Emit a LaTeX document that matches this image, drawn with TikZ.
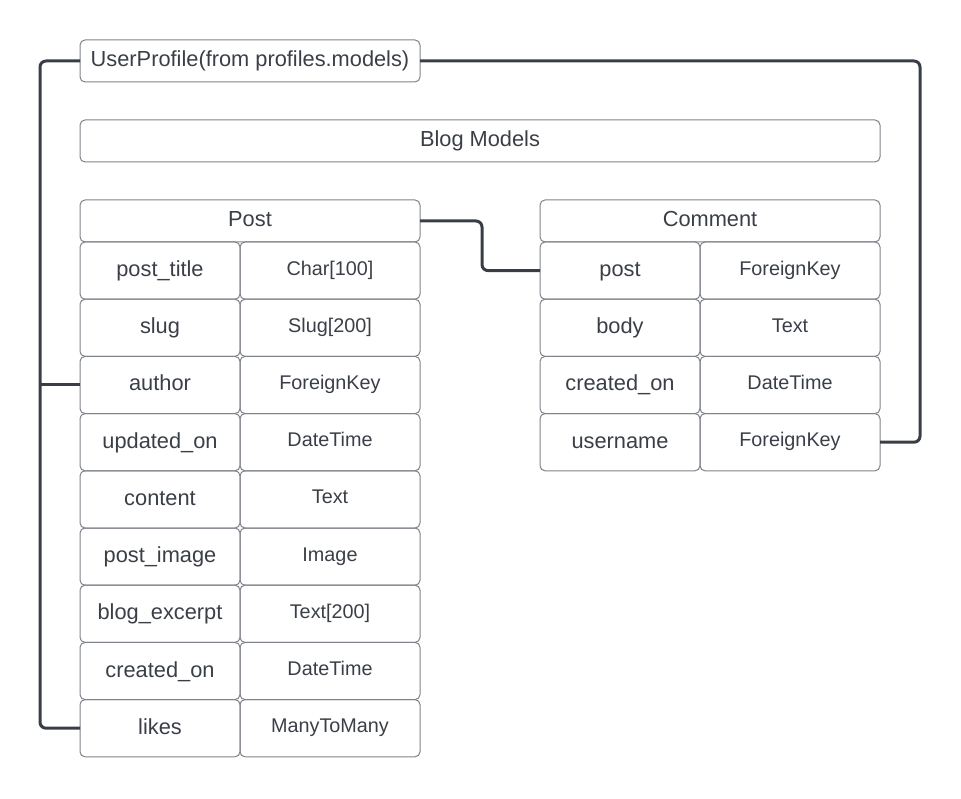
\documentclass[tikz,border=0pt]{standalone}
\usepackage{fontspec}
\setmainfont{Liberation Sans}
\definecolor{bord}{HTML}{7E8289}
\definecolor{txt}{HTML}{3A3F47}
\definecolor{lnk}{HTML}{393E46}
\begin{document}
\begin{tikzpicture}[x=1pt,y=-1pt,
 cell/.style={draw=bord, line width=1pt, rounded corners=5pt, anchor=north west, inner sep=0pt, outer sep=0pt, text=txt, font=\fontsize{21.8}{26}\selectfont, text height=15.5pt, text depth=3.5pt},
 fname/.style={cell, minimum width=160pt, minimum height=57.2pt},
 ftype/.style={cell, minimum width=180pt, minimum height=57.2pt, font=\fontsize{19.8}{24}\selectfont, text height=13.5pt, text depth=4.5pt},
 head/.style={cell, minimum width=340pt, minimum height=42pt},
 conn/.style={draw=lnk, line width=3pt, rounded corners=6pt}]
\useasboundingbox (0,0) rectangle (961,799);

\node[head] (up) at (80,40) {UserProfile(from profiles.models)};
\node[cell, minimum width=800pt, minimum height=42pt] (bm) at (80,120) {Blog Models};

\node[head] (ph) at (80,200) {Post};
\foreach \n/\t [count=\i] in {post\_title/Char[100], slug/Slug[200], author/ForeignKey, updated\_on/DateTime, content/Text, post\_image/Image, blog\_excerpt/Text[200], created\_on/DateTime, likes/ManyToMany}{
  \node[fname] (pn\i) at (80,{242+(\i-1)*57.2}) {\n};
  \node[ftype] (pt\i) at (240,{242+(\i-1)*57.2}) {\t};
}

\node[head] (ch) at (540,200) {Comment};
\foreach \n/\t [count=\i] in {post/ForeignKey, body/Text, created\_on/DateTime, username/ForeignKey}{
  \node[fname] (cn\i) at (540,{242+(\i-1)*57.2}) {\n};
  \node[ftype] (ct\i) at (700,{242+(\i-1)*57.2}) {\t};
}

\coordinate (lc) at (40,61);
\coordinate (rc) at (920,61);
\coordinate (mc) at (482,221);

\draw[conn] (up.west) -- (lc) |- (pn9.west);
\draw[conn] (lc |- pn3.west) -- (pn3.west);
\draw[conn] (up.east) -- (rc) |- (ct4.east);
\draw[conn] (ph.east) -- (mc) |- (cn1.west);
\end{tikzpicture}
\end{document}
